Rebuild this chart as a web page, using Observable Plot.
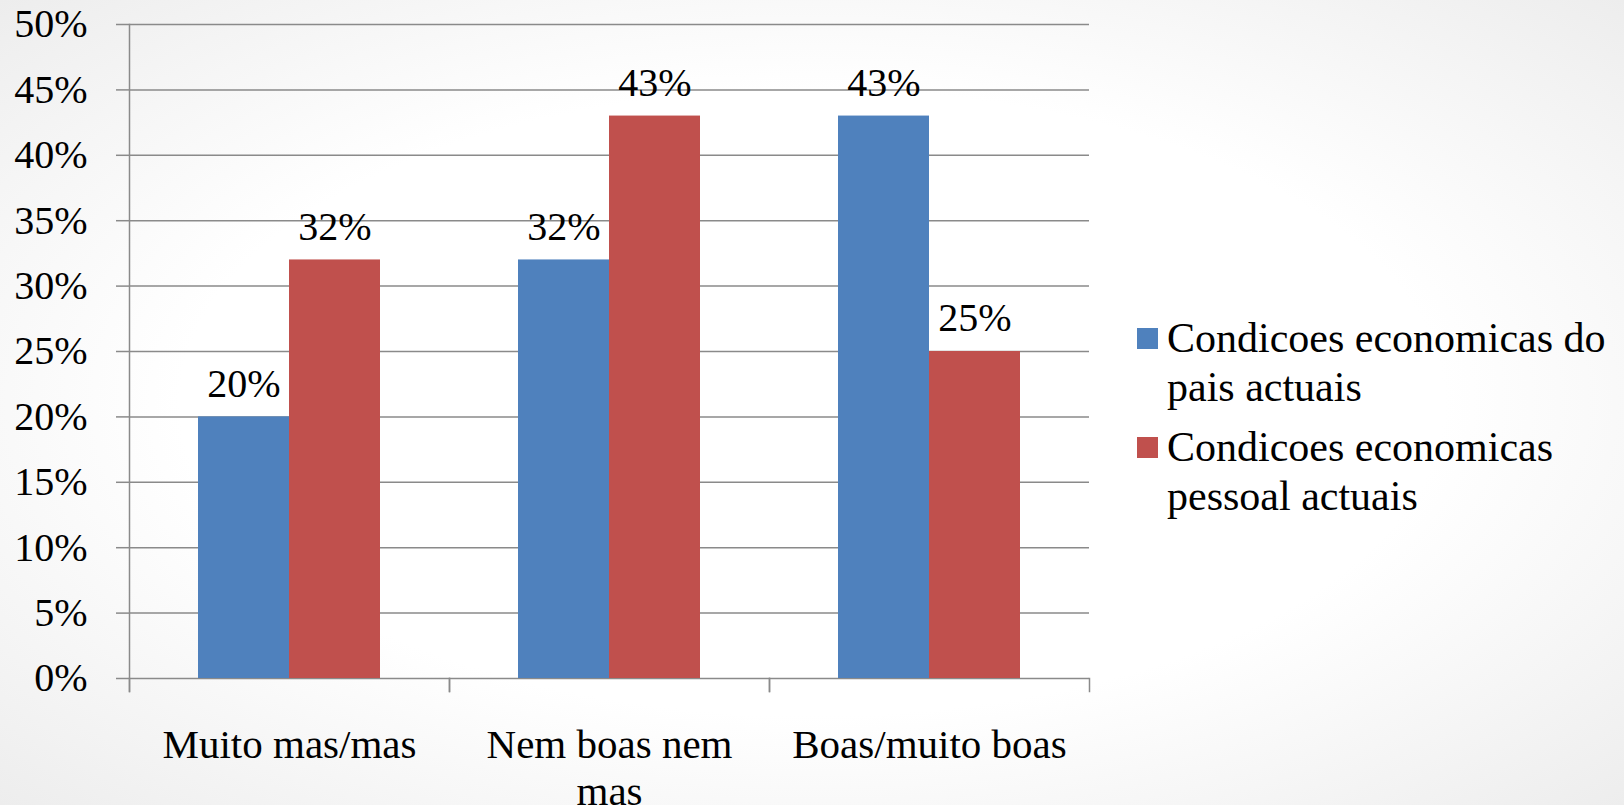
<!DOCTYPE html>
<html>
<head>
<meta charset="utf-8">
<script src="https://cdn.jsdelivr.net/npm/d3@7"></script>
<script src="https://cdn.jsdelivr.net/npm/@observablehq/plot@0.6"></script>
<style>
  body { margin: 0; }
  #wrap { position: relative; width: 1624px; height: 805px; overflow: hidden;
    background: radial-gradient(ellipse at 50% 50%, #ffffff 0%, #ffffff 55%, #ededed 100%); }
  #chart { position: absolute; left: 0; top: 0; }
  #legend { position: absolute; left: 1137px; top: 314px; }
  .item { display: flex; align-items: flex-start; margin-bottom: 11px; }
  .swatch { width: 21px; height: 21px; margin-top: 14px; margin-right: 9px; flex: none; }
</style>
</head>
<body>
<div id="wrap">
<div id="chart"></div>
<div id="legend"></div>
</div>
<script>
const categories = ["Muito mas/mas", "Nem boas nem mas", "Boas/muito boas"];
const categoryLabels = ["Muito mas/mas", "Nem boas nem\nmas", "Boas/muito boas"];
const seriesNames = ["Condicoes economicas do pais actuais", "Condicoes economicas pessoal actuais"];
const legendLabels = ["Condicoes economicas do\npais actuais", "Condicoes economicas\npessoal actuais"];
const paisValues = [20, 32, 43];
const pessoalValues = [32, 43, 25];
const yTicks = [0, 5, 10, 15, 20, 25, 30, 35, 40, 45, 50];
const colors = ["#4F81BD", "#C0504D"];

const seriesValues = [paisValues, pessoalValues];
const data = [];
categories.forEach((c, i) => {
  seriesNames.forEach((s, j) => {
    data.push({category: c, series: s, value: seriesValues[j][i]});
  });
});
const labelOf = new Map(categories.map((c, i) => [c, categoryLabels[i]]));

const gridColor = "#8a8a8a";
const FONT = "Liberation Serif, Times New Roman, serif";
const H = 805, MT = 24, MB = 127;
const plotH = H - MT - MB;

const chart = Plot.plot({
  width: 1624,
  height: H,
  marginLeft: 128,
  marginRight: 535,
  marginTop: MT,
  marginBottom: MB,
  style: {fontFamily: FONT, fontSize: "40px", background: "transparent", overflow: "visible"},
  fx: {domain: categories, paddingInner: 0, paddingOuter: 0, label: null},
  x: {domain: seriesNames, paddingInner: 0, paddingOuter: 0.75, axis: null},
  y: {domain: [0, 50]},
  color: {domain: seriesNames, range: colors},
  marks: [
    Plot.ruleY(yTicks, {stroke: gridColor, strokeWidth: 1.5}),
    Plot.barY(data, {fx: "category", x: "series", y: "value", fill: "series"}),
    Plot.text(data, {fx: "category", x: "series", y: "value", text: d => d.value + "%", dy: -33, fontSize: 40, fontFamily: FONT, fill: "#000"}),
    Plot.axisY({ticks: yTicks, tickFormat: d => d + "%", tickSize: 13, tickPadding: 29, stroke: gridColor, strokeWidth: 1.5, fontSize: 40, fontFamily: FONT, fill: "#000", label: null}),
    Plot.axisFx({anchor: "bottom", tickSize: 0, tickPadding: 46, tickFormat: d => labelOf.get(d), fontSize: 41, fontFamily: FONT, lineHeight: 1.15, fill: "#000", label: null}),
    Plot.frame({anchor: "left", facetAnchor: "left", insetBottom: -13, stroke: gridColor, strokeWidth: 1.5}),
    Plot.frame({anchor: "left", insetTop: plotH, insetBottom: -13, stroke: gridColor, strokeWidth: 1.5}),
    Plot.frame({anchor: "right", insetTop: plotH, insetBottom: -13, stroke: gridColor, strokeWidth: 1.5})
  ]
});
document.getElementById("chart").appendChild(chart);

const legend = document.getElementById("legend");
seriesNames.forEach((s, i) => {
  const item = document.createElement("div");
  item.className = "item";
  const sw = document.createElement("div");
  sw.className = "swatch";
  sw.style.background = colors[i];
  const lab = document.createElement("div");
  lab.style.fontFamily = FONT;
  lab.style.fontSize = "42px";
  lab.style.lineHeight = "49px";
  lab.style.whiteSpace = "pre-line";
  lab.style.color = "#000";
  lab.textContent = legendLabels[i];
  item.appendChild(sw);
  item.appendChild(lab);
  legend.appendChild(item);
});
</script>
</body>
</html>
